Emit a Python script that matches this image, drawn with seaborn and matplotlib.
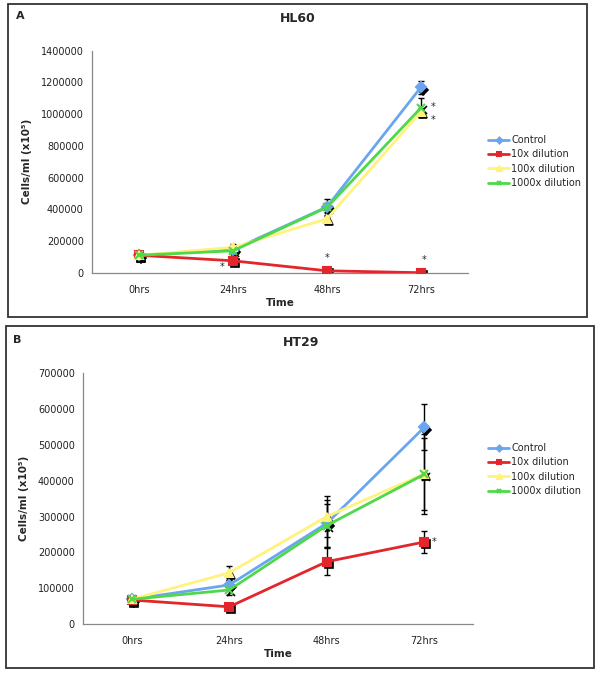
import numpy as np
import pandas as pd
import seaborn as sns
import matplotlib
matplotlib.use('Agg')
import matplotlib.pyplot as plt
from matplotlib.patches import Rectangle
from matplotlib.transforms import ScaledTranslation

# ---- data ----
times = ['0hrs', '24hrs', '48hrs', '72hrs']
series_names = ['Control', '10x dilution', '100x dilution', '1000x dilution']

# HL60 (panel A)
hl60_control = [110000, 145000, 415000, 1170000]
hl60_10x = [110000, 75000, 12000, 0]
hl60_100x = [110000, 160000, 340000, 1015000]
hl60_1000x = [110000, 138000, 412000, 1040000]
hl60_control_err = [8000, 25000, 50000, 40000]
hl60_10x_err = [8000, 10000, 5000, 2000]
hl60_100x_err = [8000, 20000, 20000, 25000]
hl60_1000x_err = [8000, 15000, 30000, 60000]

# HT29 (panel B)
ht29_control = [69000, 109000, 281000, 549000]
ht29_10x = [67000, 48000, 174000, 229000]
ht29_100x = [69000, 143000, 300000, 419000]
ht29_1000x = [69000, 95000, 275000, 418000]
ht29_control_err = [5000, 15000, 65000, 64000]
ht29_10x_err = [5000, 12000, 38000, 31000]
ht29_100x_err = [5000, 20000, 58000, 111000]
ht29_1000x_err = [5000, 15000, 60000, 100000]

# significance stars: (series, time index, dx px, dy px)
hl60_stars = [('10x dilution', 1, -11, -3), ('10x dilution', 2, 0, 16), ('10x dilution', 3, 3, 16),
              ('1000x dilution', 3, 12, 4), ('100x dilution', 3, 12, -5)]
ht29_stars = [('10x dilution', 3, 10, 3)]

sns.set_style('white')
plt.rcParams['font.family'] = ['DejaVu Sans']

colors = {'Control': '#6aa6f0', '10x dilution': '#e2262b',
          '100x dilution': '#fff27d', '1000x dilution': '#4fd84a'}
markers = {'Control': 'D', '10x dilution': 's', '100x dilution': '^', '1000x dilution': 'x'}
msizes = {'Control': 5, '10x dilution': 5.5, '100x dilution': 6, '1000x dilution': 5.5}

fig = plt.figure(figsize=(6, 6.77), dpi=100)
W, H = 600, 677


def fx(px):
    return px / W


def fy(py):
    return 1 - py / H


def make_df(vals, errs):
    rows = []
    for name, v, e in zip(series_names, vals, errs):
        for i, t in enumerate(times):
            rows.append({'series': name, 'pos': i, 'time': t, 'cells': v[i], 'err': e[i]})
    return pd.DataFrame(rows)


def draw_panel(ax, df, stars, ymax, ystep):
    shadow = ax.transData + ScaledTranslation(0.02, -0.025, fig.dpi_scale_trans)
    for name in series_names:
        d = df[df.series == name]
        # black offset copies of the markers
        ax.plot(d.pos, d.cells, ls='none', marker=markers[name], color='black',
                ms=msizes[name], mew=1.2, transform=shadow, zorder=1)
        ax.errorbar(d.pos, d.cells, yerr=d.err, fmt='none', ecolor='black',
                    elinewidth=1, capsize=2.5, capthick=1, zorder=2)
    for name in series_names:
        d = df[df.series == name]
        sns.lineplot(data=d, x='pos', y='cells', ax=ax, color=colors[name], lw=2,
                     marker=markers[name], ms=msizes[name], mec=colors[name], mew=1.5,
                     label=name, zorder=3, errorbar=None)
    for name, i, dx, dy in stars:
        v = df[(df.series == name) & (df.pos == i)].cells.iloc[0]
        ax.annotate('*', xy=(i, v), xytext=(dx, dy - 3), textcoords='offset pixels',
                    ha='center', va='center', fontsize=7)

    ax.set_xlim(-0.5, 3.5)
    ax.set_ylim(0, ymax)
    ax.set_xticks(range(4))
    ax.set_xticklabels(times)
    ax.set_xticks(np.arange(-0.5, 4, 1), minor=True)
    yt = np.arange(0, ymax + 1, ystep)
    ax.set_yticks(yt)
    ax.set_yticklabels([f'{int(t)}' for t in yt])
    ax.tick_params(axis='x', which='major', length=0, labelsize=7, pad=9, labelcolor='#222222')
    ax.tick_params(axis='x', which='minor', length=3, color='#888888', direction='out')
    ax.tick_params(axis='y', which='major', length=4, color='#888888', direction='out',
                   labelsize=7, labelcolor='#222222', pad=2)
    sns.despine(ax=ax)
    for s in ['left', 'bottom']:
        ax.spines[s].set_color('#888888')
        ax.spines[s].set_linewidth(0.9)
    ax.set_xlabel('Time', fontsize=7.5, fontweight='bold', labelpad=2)
    ax.set_ylabel('Cells/ml (x10\u2075)', fontsize=7.5, fontweight='bold', labelpad=6)


# panel boxes
fig.add_artist(Rectangle((fx(8), fy(317)), fx(579), 313 / H, transform=fig.transFigure,
                         fill=False, edgecolor='#333333', lw=1.3))
fig.add_artist(Rectangle((fx(6), fy(668)), fx(588), 342 / H, transform=fig.transFigure,
                         fill=False, edgecolor='#333333', lw=1.3))

legend_kw = dict(loc='upper left', bbox_transform=fig.transFigure, frameon=False, fontsize=7,
                 handlelength=2.2, handletextpad=0.2, labelspacing=0.45,
                 borderpad=0, borderaxespad=0, markerscale=0.6)

# panel A
axA = fig.add_axes([fx(92), fy(272.7), fx(376), 222 / H])
draw_panel(axA, make_df([hl60_control, hl60_10x, hl60_100x, hl60_1000x],
                        [hl60_control_err, hl60_10x_err, hl60_100x_err, hl60_1000x_err]),
           hl60_stars, 1400000, 200000)
axA.legend(bbox_to_anchor=(fx(488), fy(135)), **legend_kw)
fig.text(fx(20), fy(16), 'A', fontsize=8, fontweight='bold', ha='center', va='center')
fig.text(fx(298), fy(19), 'HL60', fontsize=9, fontweight='bold', ha='center', va='center')

# panel B
axB = fig.add_axes([fx(83), fy(624), fx(390), 250.7 / H])
draw_panel(axB, make_df([ht29_control, ht29_10x, ht29_100x, ht29_1000x],
                        [ht29_control_err, ht29_10x_err, ht29_100x_err, ht29_1000x_err]),
           ht29_stars, 700000, 100000)
axB.legend(bbox_to_anchor=(fx(488), fy(443)), **legend_kw)
fig.text(fx(17), fy(340), 'B', fontsize=8, fontweight='bold', ha='center', va='center')
fig.text(fx(301), fy(342), 'HT29', fontsize=9, fontweight='bold', ha='center', va='center')

fig.savefig('out.png', dpi=100)
